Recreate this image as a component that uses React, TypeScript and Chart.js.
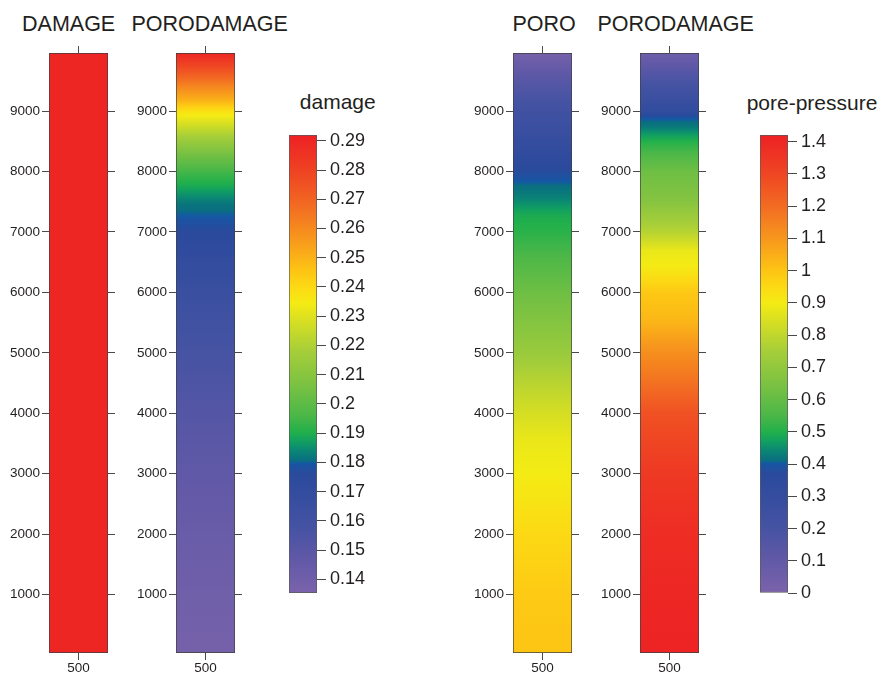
import React, { useEffect, useRef } from "react";
import { Chart, registerables } from "chart.js";

Chart.register(...registerables);

// ---------- axes ----------
const DEPTH_MIN = 35;
const DEPTH_MAX = 9960;
const DEPTH_TICKS = [1000, 2000, 3000, 4000, 5000, 6000, 7000, 8000, 9000];
const X_LABELS = ["500"];

// ---------- colour bars ----------
const DAMAGE_RANGE = [0.1353, 0.292];
const DAMAGE_TICKS = [0.14, 0.15, 0.16, 0.17, 0.18, 0.19, 0.2, 0.21, 0.22, 0.23, 0.24, 0.25, 0.26, 0.27, 0.28, 0.29];
const PRESSURE_RANGE = [0, 1.421];
const PRESSURE_TICKS = [0, 0.1, 0.2, 0.3, 0.4, 0.5, 0.6, 0.7, 0.8, 0.9, 1, 1.1, 1.2, 1.3, 1.4];

// ---------- fields (depth -> value) ----------
const DAMAGE_DEPTHS = [35, 2000, 4000, 6000, 8000, 9960];
const DAMAGE_VALUES = [0.29, 0.29, 0.29, 0.29, 0.29, 0.29];

const PORODAMAGE_D_DEPTHS = [35, 1000, 2000, 3000, 4000, 5000, 6000, 6530, 7000, 7250, 7450, 7600, 7800, 8000, 8270, 8515, 8760, 9000, 9175, 9425, 9675, 9960];
const PORODAMAGE_D_VALUES = [0.138, 0.14, 0.143, 0.147, 0.152, 0.157, 0.165, 0.171, 0.176, 0.1795, 0.1815, 0.185, 0.19, 0.195, 0.205, 0.215, 0.227, 0.238, 0.25, 0.262, 0.275, 0.29];

const PORO_DEPTHS = [35, 1000, 2000, 2560, 3000, 3550, 4000, 4550, 5000, 5380, 6000, 6530, 7000, 7270, 7440, 7600, 7770, 7850, 8100, 8350, 8680, 9000, 9180, 9590, 9960];
const PORO_VALUES = [1.0, 0.985, 0.95, 0.92, 0.9, 0.88, 0.84, 0.78, 0.72, 0.68, 0.62, 0.56, 0.51, 0.49, 0.46, 0.43, 0.41, 0.4, 0.36, 0.32, 0.27, 0.23, 0.2, 0.12, 0.02];

const PORODAMAGE_P_DEPTHS = [35, 1000, 2000, 3000, 4000, 4550, 5000, 5120, 5540, 6000, 6200, 6450, 6690, 7000, 7520, 8000, 8430, 8600, 8760, 8880, 9000, 9180, 9590, 9960];
const PORODAMAGE_P_VALUES = [1.41, 1.4, 1.38, 1.34, 1.27, 1.18, 1.12, 1.1, 1.03, 0.99, 0.95, 0.9, 0.88, 0.78, 0.67, 0.62, 0.52, 0.47, 0.42, 0.4, 0.33, 0.27, 0.16, 0.05];

// ---------- colour map ----------
const CMAP_POS = [0, 0.07, 0.141, 0.211, 0.26, 0.279, 0.283, 0.289, 0.31, 0.33, 0.352, 0.387, 0.457, 0.528, 0.598, 0.633, 0.669, 0.704, 0.774, 0.845, 0.915, 1];
const CMAP_COLORS = ["#7b63ab", "#6259a7", "#4653a3", "#354d9f", "#2b4a9c", "#1a53a2", "#1459a4", "#0a6e80", "#0a8575", "#109e62", "#22b04b", "#4bb748", "#7cc242", "#a6ce39", "#dae021", "#f4eb14", "#fcd914", "#fdc414", "#f7971d", "#f26b22", "#ef4623", "#ed2024"];

const FONT_FAMILY = "'Liberation Sans', Arial, Helvetica, sans-serif";
const TEXT_COLOR = "#231f20";
const TICK_COLOR = "#4a4a4a";

function hexRgb(h: string) {
  return [parseInt(h.slice(1, 3), 16), parseInt(h.slice(3, 5), 16), parseInt(h.slice(5, 7), 16)];
}
const CMAP_RGB = CMAP_COLORS.map(hexRgb);

function clamp(v: number, a: number, b: number) {
  return Math.max(a, Math.min(b, v));
}

function cmap(f: number) {
  f = clamp(f, 0, 1);
  for (let i = 0; i < CMAP_POS.length - 1; i++) {
    if (f <= CMAP_POS[i + 1]) {
      const t = (f - CMAP_POS[i]) / (CMAP_POS[i + 1] - CMAP_POS[i]);
      const a = CMAP_RGB[i], b = CMAP_RGB[i + 1];
      const c = a.map((x, k) => Math.round(x + (b[k] - x) * t));
      return `rgb(${c[0]},${c[1]},${c[2]})`;
    }
  }
  return CMAP_COLORS[CMAP_COLORS.length - 1];
}

function fieldGradient(chart: any, depths: number[], values: number[], range: number[]) {
  const y = chart.scales && chart.scales.y;
  if (!chart.chartArea || !y) return "transparent";
  const yb = y.getPixelForValue(DEPTH_MIN);
  const yt = y.getPixelForValue(DEPTH_MAX);
  const g = chart.ctx.createLinearGradient(0, yb, 0, yt);
  const frac = (v: number) => (v - range[0]) / (range[1] - range[0]);
  const pts = depths.map((d, i) => ({ d, f: frac(values[i]) })).sort((a, b) => a.d - b.d);
  const stop = (d: number, f: number) => {
    const p = (y.getPixelForValue(d) - yb) / (yt - yb);
    g.addColorStop(clamp(p, 0, 1), cmap(f));
  };
  for (let i = 0; i < pts.length; i++) {
    stop(pts[i].d, pts[i].f);
    if (i < pts.length - 1) {
      const a = pts[i], b = pts[i + 1];
      const lo = Math.min(a.f, b.f), hi = Math.max(a.f, b.f);
      CMAP_POS.filter((p) => p > lo && p < hi).forEach((k) => {
        const t = (k - a.f) / (b.f - a.f);
        stop(a.d + t * (b.d - a.d), k);
      });
    }
  }
  return g;
}

function colorbarGradient(chart: any, range: number[]) {
  const y = chart.scales && chart.scales.y;
  if (!chart.chartArea || !y) return "transparent";
  const yb = y.getPixelForValue(range[0]);
  const yt = y.getPixelForValue(range[1]);
  const g = chart.ctx.createLinearGradient(0, yb, 0, yt);
  CMAP_POS.forEach((p, i) => g.addColorStop(p, CMAP_COLORS[i]));
  return g;
}

const tickGrid = (len: number) => ({
  drawOnChartArea: false,
  drawTicks: true,
  tickLength: len,
  color: TICK_COLOR,
  lineWidth: 1,
  offset: false,
});

function columnConfig(depths: number[], values: number[], range: number[]): any {
  const depthTicks = (s: any) => {
    s.ticks = DEPTH_TICKS.map((v) => ({ value: v }));
  };
  return {
    type: "bar",
    data: {
      labels: X_LABELS,
      datasets: [
        {
          data: [[DEPTH_MIN, DEPTH_MAX]],
          backgroundColor: (ctx: any) => fieldGradient(ctx.chart, depths, values, range),
          borderColor: "#3f3f3f",
          borderWidth: 1,
          borderSkipped: false,
          barPercentage: 1,
          categoryPercentage: 1,
          xAxisID: "x",
          yAxisID: "y",
        },
      ],
    },
    options: {
      animation: false,
      responsive: false,
      maintainAspectRatio: false,
      layout: { padding: 0 },
      plugins: { legend: { display: false }, tooltip: { enabled: false }, title: { display: false } },
      scales: {
        x: {
          type: "category",
          position: "bottom",
          offset: true,
          grid: tickGrid(7),
          border: { display: false },
          ticks: { font: { family: FONT_FAMILY, size: 13.5 }, color: TEXT_COLOR, padding: 0 },
          afterFit: (s: any) => { s.height = 22; },
        },
        x2: {
          type: "category",
          position: "top",
          labels: X_LABELS,
          offset: true,
          grid: tickGrid(7),
          border: { display: false },
          ticks: { display: false },
          afterFit: (s: any) => { s.height = 53; },
        },
        y: {
          type: "linear",
          position: "left",
          min: DEPTH_MIN,
          max: DEPTH_MAX,
          grid: tickGrid(7),
          border: { display: false },
          ticks: {
            font: { family: FONT_FAMILY, size: 13.5 },
            color: TEXT_COLOR,
            padding: 2,
            callback: (v: any) => String(v),
          },
          afterBuildTicks: depthTicks,
          afterFit: (s: any) => { s.width = 49; s.paddingTop = 0; s.paddingBottom = 0; },
        },
        y2: {
          type: "linear",
          position: "right",
          min: DEPTH_MIN,
          max: DEPTH_MAX,
          grid: tickGrid(7),
          border: { display: false },
          ticks: { display: false },
          afterBuildTicks: depthTicks,
          afterFit: (s: any) => { s.width = 8; s.paddingTop = 0; s.paddingBottom = 0; },
        },
      },
    },
  };
}

function colorbarConfig(range: number[], ticks: number[], digits: number): any {
  return {
    type: "bar",
    data: {
      labels: [""],
      datasets: [
        {
          data: [[range[0], range[1]]],
          backgroundColor: (ctx: any) => colorbarGradient(ctx.chart, range),
          borderColor: "#5a5a5a",
          borderWidth: 1,
          borderSkipped: false,
          barPercentage: 1,
          categoryPercentage: 1,
        },
      ],
    },
    options: {
      animation: false,
      responsive: false,
      maintainAspectRatio: false,
      layout: { padding: { top: 10, bottom: 10, left: 0, right: 0 } },
      plugins: { legend: { display: false }, tooltip: { enabled: false }, title: { display: false } },
      scales: {
        x: { type: "category", display: false, offset: true },
        y: {
          type: "linear",
          position: "right",
          min: range[0],
          max: range[1],
          grid: tickGrid(9),
          border: { display: false },
          ticks: {
            font: { family: FONT_FAMILY, size: 18 },
            color: TEXT_COLOR,
            padding: 4,
            callback: (v: any) => String(Number(Number(v).toFixed(digits))),
          },
          afterBuildTicks: (s: any) => {
            s.ticks = ticks.map((v) => ({ value: v }));
          },
          afterFit: (s: any) => { s.width = 60; s.paddingTop = 0; s.paddingBottom = 0; },
        },
      },
    },
  };
}

function ChartCanvas(props: { left: number; top: number; width: number; height: number; makeConfig: () => any }) {
  const ref = useRef<HTMLCanvasElement | null>(null);
  useEffect(() => {
    if (!ref.current) return;
    const chart = new Chart(ref.current, props.makeConfig());
    return () => chart.destroy();
  }, []);
  return (
    <canvas
      ref={ref}
      width={props.width}
      height={props.height}
      style={{ position: "absolute", left: props.left, top: props.top, width: props.width, height: props.height }}
    />
  );
}

function Title(props: { cx: number; baseline: number; size: number; text: string }) {
  const { cx, baseline, size, text } = props;
  return (
    <div
      style={{
        position: "absolute",
        left: cx - 120,
        width: 240,
        top: baseline - 0.8465 * size,
        textAlign: "center",
        fontFamily: FONT_FAMILY,
        fontSize: size,
        lineHeight: `${size}px`,
        color: TEXT_COLOR,
        whiteSpace: "nowrap",
      }}
    >
      {text}
    </div>
  );
}

export default function App() {
  return (
    <div style={{ position: "absolute", left: 0, top: 0, width: 883, height: 675, background: "#ffffff", overflow: "hidden" }}>
      <Title cx={68.6} baseline={31.7} size={21.5} text="DAMAGE" />
      <Title cx={209.7} baseline={31.7} size={21.5} text="PORODAMAGE" />
      <Title cx={544.2} baseline={31.7} size={21.5} text="PORO" />
      <Title cx={675.7} baseline={31.7} size={21.5} text="PORODAMAGE" />
      <Title cx={337.8} baseline={109} size={21} text="damage" />
      <Title cx={812} baseline={110} size={21} text="pore-pressure" />

      <ChartCanvas left={0} top={0} width={116} height={675} makeConfig={() => columnConfig(DAMAGE_DEPTHS, DAMAGE_VALUES, DAMAGE_RANGE)} />
      <ChartCanvas left={127} top={0} width={116} height={675} makeConfig={() => columnConfig(PORODAMAGE_D_DEPTHS, PORODAMAGE_D_VALUES, DAMAGE_RANGE)} />
      <ChartCanvas left={289} top={125} width={88} height={478} makeConfig={() => colorbarConfig(DAMAGE_RANGE, DAMAGE_TICKS, 2)} />

      <ChartCanvas left={464} top={0} width={116} height={675} makeConfig={() => columnConfig(PORO_DEPTHS, PORO_VALUES, PRESSURE_RANGE)} />
      <ChartCanvas left={591} top={0} width={116} height={675} makeConfig={() => columnConfig(PORODAMAGE_P_DEPTHS, PORODAMAGE_P_VALUES, PRESSURE_RANGE)} />
      <ChartCanvas left={760} top={125} width={88} height={478} makeConfig={() => colorbarConfig(PRESSURE_RANGE, PRESSURE_TICKS, 1)} />
    </div>
  );
}
